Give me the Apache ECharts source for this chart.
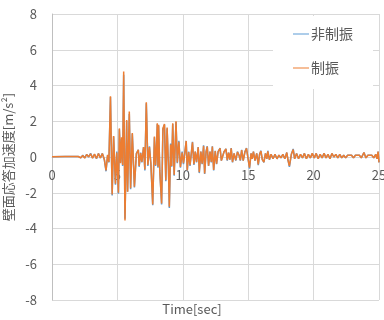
<!DOCTYPE html>
<html>
<head>
<meta charset="utf-8">
<script src="https://cdn.jsdelivr.net/npm/echarts@6/dist/echarts.min.js"></script>
<style>
	html, body { margin: 0; padding: 0; background: #fff; }
	#chart { width: 384px; height: 320px; }
</style>
</head>
<body>
<div id="chart"></div>
<script>
	var seriesNames = ['非制振', '制振'];
	var xTicks = [0, 5, 10, 15, 20, 25];

	// time [sec]
	var time = [
		0.0, 1.0, 2.0, 2.2, 2.35, 2.5, 2.65, 2.8, 2.95, 3.1, 3.25, 3.4, 3.55, 3.7, 3.85, 4.0,
		4.13, 4.25, 4.35, 4.47, 4.6, 4.71, 4.85, 4.95, 5.08, 5.15, 5.24, 5.32, 5.4, 5.48,
		5.58, 5.71, 5.78, 5.91, 6.01, 6.14, 6.3, 6.45, 6.6, 6.66, 6.78, 6.87, 7.0, 7.1,
		7.21, 7.33, 7.45, 7.56, 7.7, 7.83, 7.92, 7.98, 8.05, 8.1, 8.15, 8.24, 8.38, 8.48,
		8.6, 8.7, 8.8, 8.9, 8.97, 9.07, 9.15, 9.23, 9.34, 9.48, 9.58, 9.7, 9.82, 9.95,
		10.05, 10.15, 10.26, 10.34, 10.45, 10.55, 10.65, 10.74, 10.85, 10.95, 11.05, 11.18,
		11.26, 11.38, 11.48, 11.59, 11.67, 11.78, 11.87, 11.97, 12.08, 12.18, 12.26, 12.36,
		12.48, 12.58, 12.7, 12.85, 12.95, 13.05, 13.15, 13.3, 13.4, 13.5, 13.6, 13.7, 13.8,
		13.92, 14.05, 14.18, 14.3, 14.4, 14.5, 14.62, 14.75, 14.87, 14.97, 15.1, 15.22, 15.3,
		15.4, 15.52, 15.65, 15.77, 15.87, 15.97, 16.08, 16.2, 16.32, 16.42, 16.5, 16.62, 16.75,
		16.9, 17.05, 17.2, 17.35, 17.5, 17.65, 17.8, 17.95, 18.05, 18.15, 18.3, 18.44, 18.55,
		18.7, 18.85, 19.0, 19.15, 19.3, 19.45, 19.6, 19.75, 19.9, 20.05, 20.2, 20.35, 20.5,
		20.65, 20.8, 20.95, 21.1, 21.25, 21.4, 21.55, 21.7, 21.85, 22.0, 22.15, 22.3, 22.45,
		22.6, 22.75, 22.9, 23.05, 23.2, 23.35, 23.5, 23.65, 23.85, 24.0, 24.15, 24.3, 24.45,
		24.6, 24.75, 24.85, 24.93, 25.0
	];

	// 非制振 [m/s2]
	var nonDamped = [
		0.02, 0.03, 0.03, -0.05, 0.1, -0.05, 0.15, 0.0, 0.2, -0.05, 0.15, -0.1, 0.2, -0.05, 0.2, -0.15,
		-0.8, 0.1, -0.3, 3.35, -2.15, 1.15, -1.55, 0.3, -2.05, 1.55, -0.3, 1.0, -0.5, 4.6,
		-3.45, 2.0, -1.95, 2.4, -1.8, 1.3, -1.7, 0.2, 0.4, -0.55, 0.25, -0.3, 0.55, -0.75,
		3.0, -0.5, 0.6, -0.4, -2.7, 1.1, -0.5, 0.3, 1.85, -0.6, 1.75, -0.8, -2.65, 1.55,
		1.8, -1.35, 1.6, -0.5, -2.85, 0.75, -0.55, 1.85, -1.05, 1.95, -0.35, 0.9, -0.6, 0.3,
		-0.4, 0.2, 0.9, -0.8, 0.3, -0.5, 0.2, 0.85, -0.45, 0.3, -0.3, 0.55,
		-0.9, 0.3, -0.4, 0.65, -0.95, 0.3, 0.6, -0.5, 0.3, -0.3, 0.6, -0.75,
		0.35, -0.4, 0.3, 0.5, -0.2, -0.3, 0.3, 0.45, -0.2, 0.25, -0.15, 0.5, -0.3,
		0.2, -0.2, 0.3, 0.1, -0.2, 0.4, -0.2, 0.3, 0.5, 0.0, -0.65, 0.2, -0.1,
		0.3, -0.2, 0.2, -0.45, 0.15, 0.35, -0.15, -0.3, 0.2, -0.1, 0.35, -0.15, 0.15,
		-0.1, 0.15, -0.1, 0.1, -0.05, 0.15, -0.1, 0.25, -0.2, -0.55, 0.15, 0.45, -0.1,
		0.2, -0.1, 0.15, -0.05, 0.2, -0.1, 0.15, -0.05, 0.2, -0.05, 0.2, -0.1, 0.15,
		-0.05, 0.2, -0.05, 0.15, -0.1, 0.2, 0.0, 0.15, -0.05, 0.15, -0.05, 0.1, -0.05,
		0.1, 0.0, 0.1, -0.05, 0.1, 0.0, 0.1, -0.05, 0.25, -0.05, 0.1, 0.0, 0.1,
		-0.05, 0.15, -0.1, 0.3, -0.3
	];

	// 制振 [m/s2]
	var damped = [
		0.02, 0.03, 0.03, -0.04, 0.08, -0.06, 0.14, 0.01, 0.18, -0.06, 0.16, -0.08, 0.2, -0.06, 0.2, -0.12,
		-0.75, 0.12, -0.28, 3.4, -2.1, 1.17, -1.5, 0.25, -2.0, 1.6, -0.35, 1.1, -0.45, 4.78,
		-3.55, 2.07, -1.94, 2.54, -1.75, 1.34, -1.66, 0.18, 0.4, -0.5, 0.22, -0.28, 0.55, -0.7,
		3.06, -0.45, 0.55, -0.35, -2.65, 1.14, -0.45, 0.3, 1.89, -0.55, 1.8, -0.75, -2.6, 1.6,
		1.85, -1.3, 1.65, -0.45, -2.78, 0.7, -0.5, 1.89, -1.0, 2.0, -0.3, 0.85, -0.55, 0.25,
		-0.35, 0.2, 0.9, -0.75, 0.28, -0.45, 0.2, 0.82, -0.4, 0.3, -0.28, 0.55,
		-0.85, 0.3, -0.38, 0.62, -0.92, 0.28, 0.58, -0.48, 0.3, -0.28, 0.58, -0.72,
		0.33, -0.38, 0.3, 0.48, -0.2, -0.28, 0.28, 0.45, -0.18, 0.25, -0.15, 0.48, -0.28,
		0.2, -0.18, 0.28, 0.1, -0.18, 0.38, -0.2, 0.28, 0.48, 0.0, -0.6, 0.2, -0.1,
		0.3, -0.2, 0.2, -0.42, 0.15, 0.33, -0.15, -0.28, 0.2, -0.1, 0.32, -0.15, 0.15,
		-0.1, 0.15, -0.1, 0.1, -0.05, 0.15, -0.1, 0.25, -0.2, -0.5, 0.15, 0.42, -0.1,
		0.2, -0.1, 0.15, -0.05, 0.2, -0.1, 0.15, -0.05, 0.2, -0.05, 0.2, -0.1, 0.15,
		-0.05, 0.2, -0.05, 0.15, -0.1, 0.2, 0.0, 0.15, -0.05, 0.15, -0.05, 0.1, -0.05,
		0.1, 0.0, 0.1, -0.05, 0.1, 0.0, 0.1, -0.05, 0.25, -0.05, 0.1, 0.0, 0.1,
		-0.05, 0.15, -0.1, 0.3, -0.3
	];

	function pairs(values) {
		var out = [];
		for (var i = 0; i < time.length; i++) {
			out.push([time[i], values[i]]);
		}
		return out;
	}

	var font = "'Noto Sans CJK JP', 'Noto Sans', sans-serif";
	var myChart = echarts.init(document.getElementById('chart'));
	var option = {
		animation: false,
		textStyle: { fontFamily: font },
		grid: { left: 52, right: 5, top: 14, bottom: 20, containLabel: false, outerBoundsMode: 'none' },
		legend: {
			orient: 'vertical',
			left: 273,
			top: 16,
			padding: [11, 20, 14, 20],
			backgroundColor: '#fff',
			itemWidth: 16,
			itemHeight: 1,
			itemGap: 20,
			icon: 'rect',
			textStyle: { color: '#595959', fontSize: 14, fontFamily: font, padding: [0, 0, 0, -3] },
			data: seriesNames
		},
		xAxis: {
			type: 'value',
			min: xTicks[0],
			max: xTicks[xTicks.length - 1],
			interval: 5,
			offset: -143, // x axis sits on the zero line
			axisLine: { onZero: false, lineStyle: { color: '#d9d9d9' } },
			axisTick: { show: false },
			axisLabel: { color: '#595959', fontSize: 13, margin: 12 },
			splitLine: { lineStyle: { color: '#d9d9d9' } }
		},
		yAxis: {
			type: 'value',
			min: -8,
			max: 8,
			interval: 2,
			name: '壁面応答加速度[m/s²]',
			nameLocation: 'middle',
			nameGap: 37,
			nameTextStyle: { color: '#595959', fontSize: 13 },
			axisLine: { show: true, onZero: false, lineStyle: { color: '#bfbfbf' } },
			axisTick: { show: false },
			axisLabel: { color: '#595959', fontSize: 13, margin: 15 },
			splitLine: { lineStyle: { color: '#d9d9d9' } }
		},
		graphic: [{
			type: 'text',
			left: 'center',
			top: 303,
			style: { text: 'Time[sec]', fill: '#595959', fontSize: 13, fontFamily: font },
			x: 24
		}],
		series: [{
			name: seriesNames[0],
			type: 'line',
			symbol: 'none',
			lineStyle: { color: '#5B9BD5', width: 1.5 },
			itemStyle: { color: '#5B9BD5' },
			data: pairs(nonDamped)
		}, {
			name: seriesNames[1],
			type: 'line',
			symbol: 'none',
			lineStyle: { color: '#ED7D31', width: 1.5 },
			itemStyle: { color: '#ED7D31' },
			data: pairs(damped)
		}]
	};
	myChart.setOption(option);
</script>
</body>
</html>
